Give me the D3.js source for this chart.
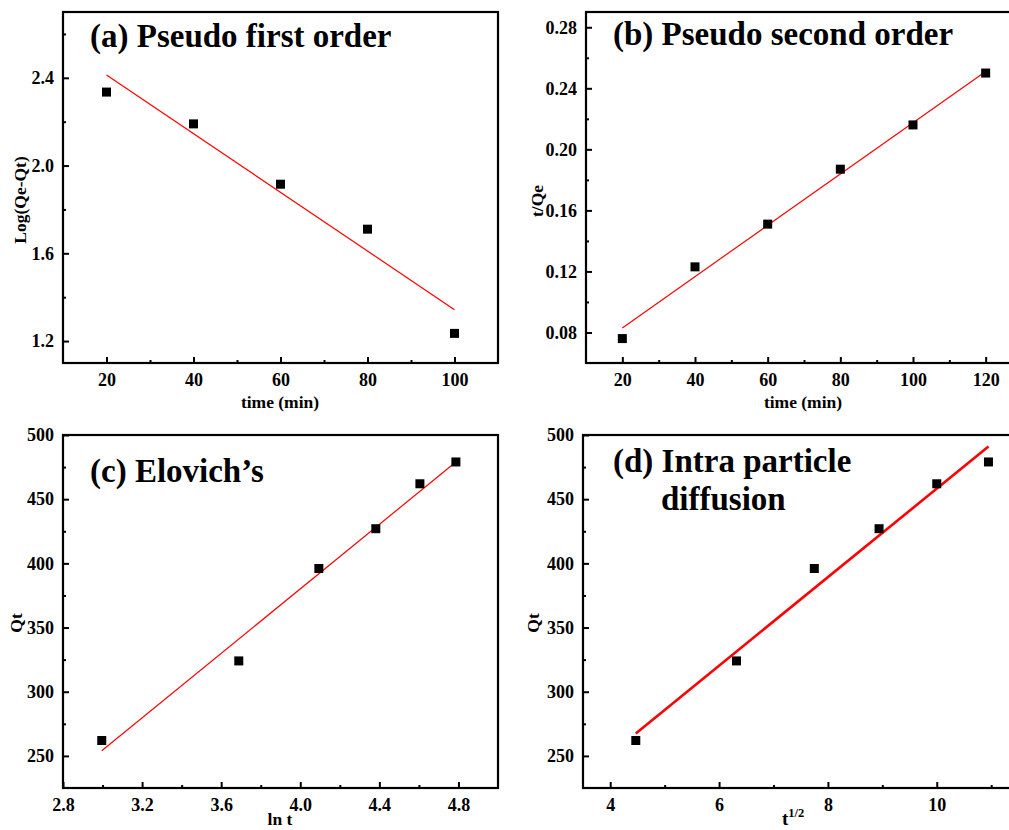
<!DOCTYPE html>
<html>
<head>
<meta charset="utf-8">
<script src="https://cdn.jsdelivr.net/npm/d3@7"></script>
<style>
html,body{margin:0;padding:0;background:#fff;overflow:hidden;}
svg{display:block;}
text{font-family:"Liberation Serif","Times New Roman",serif;font-weight:bold;fill:#000;}
</style>
</head>
<body>
<svg id="chart" width="1009" height="830"></svg>
<script>
// ---- data ----
const timeA = [20, 40, 60, 80, 100];
const logQeQt = [2.335, 2.19, 1.915, 1.71, 1.235];
const fitA_x = [20, 100];
const fitA_y = [2.413, 1.343];

const timeB = [20, 40, 60, 80, 100, 120];
const tOverQe = [0.076, 0.123, 0.151, 0.187, 0.216, 0.250];
const fitB_x = [20, 120];
const fitB_y = [0.083, 0.251];

const lnT = [2.996, 3.689, 4.094, 4.382, 4.605, 4.787];
const qt = [262, 324, 396, 427, 462, 479];
const fitC_x = [2.996, 4.787];
const fitC_y = [254, 479];

const sqrtT = [4.47, 6.32, 7.75, 8.94, 10.0, 10.95];
const fitD_x = [4.47, 10.95];
const fitD_y = [267.5, 491];

const ticksAx = [20, 40, 60, 80, 100];
const minorAx = [30, 50, 70, 90];
const ticksAy = [1.2, 1.6, 2.0, 2.4];
const minorAy = [1.4, 1.8, 2.2, 2.6];

const ticksBx = [20, 40, 60, 80, 100, 120];
const minorBx = [30, 50, 70, 90, 110];
const ticksBy = [0.08, 0.12, 0.16, 0.20, 0.24, 0.28];
const minorBy = [0.10, 0.14, 0.18, 0.22, 0.26];

const ticksCx = [2.8, 3.2, 3.6, 4.0, 4.4, 4.8];
const minorCx = [3.0, 3.4, 3.8, 4.2, 4.6];
const ticksQy = [250, 300, 350, 400, 450, 500];
const minorQy = [275, 325, 375, 425, 475];

const ticksDx = [4, 6, 8, 10];
const minorDx = [5, 7, 9, 11];

const svg = d3.select("#chart");
const TITLE_SIZE = "33px";
const TICK_SIZE = "18px";
const LABEL_SIZE = "17.5px";

function panel(o) {
  const g = svg.append("g");
  const x = d3.scaleLinear().domain(o.xdom).range([o.left, o.right]);
  const y = d3.scaleLinear().domain(o.ydom).range([o.bottom, o.top]);

  const xAxis = d3.axisBottom(x).tickValues(o.xt).tickSize(-6).tickPadding(10).tickFormat(o.xf);
  const yAxis = d3.axisLeft(y).tickValues(o.yt).tickSize(-6).tickPadding(9).tickFormat(o.yf);
  const gx = g.append("g").attr("transform", `translate(0,${o.bottom})`).call(xAxis);
  const gy = g.append("g").attr("transform", `translate(${o.left},0)`).call(yAxis);
  [gx, gy].forEach(a => {
    a.attr("font-family", null).attr("font-size", null);
    a.select(".domain").remove();
    a.selectAll(".tick line").attr("stroke", "#000").attr("stroke-width", 2);
    a.selectAll(".tick text").style("font-size", TICK_SIZE).style("font-family", '"Liberation Serif",serif').style("font-weight", "bold").attr("fill", "#000");
  });
  gx.selectAll(".tick text").attr("dy", "0.71em");
  const mx = d3.axisBottom(x).tickValues(o.xm).tickSize(-3).tickFormat("");
  const my = d3.axisLeft(y).tickValues(o.ym).tickSize(-3).tickFormat("");
  const gmx = g.append("g").attr("transform", `translate(0,${o.bottom})`).call(mx);
  const gmy = g.append("g").attr("transform", `translate(${o.left},0)`).call(my);
  [gmx, gmy].forEach(a => {
    a.select(".domain").remove();
    a.selectAll(".tick line").attr("stroke", "#000").attr("stroke-width", 2);
  });

  g.append("rect").attr("x", o.left).attr("y", o.top)
    .attr("width", o.right - o.left).attr("height", o.bottom - o.top)
    .attr("fill", "none").attr("stroke", "#000").attr("stroke-width", 2.2);

  g.append("line")
    .attr("x1", x(o.fx[0])).attr("y1", y(o.fy[0]))
    .attr("x2", x(o.fx[1])).attr("y2", y(o.fy[1]))
    .attr("stroke", "#ff0000").attr("stroke-width", o.lw);

  const s = 9;
  g.selectAll("rect.pt").data(o.px.map((v, i) => [v, o.py[i]])).enter()
    .append("rect").attr("class", "pt")
    .attr("x", d => x(d[0]) - s / 2).attr("y", d => y(d[1]) - s / 2)
    .attr("width", s).attr("height", s).attr("fill", "#000");

  o.title.forEach(t => {
    g.append("text").attr("x", t[0]).attr("y", t[1]).style("font-size", TITLE_SIZE).text(t[2]);
  });

  g.append("text")
    .attr("transform", `translate(${o.ylx},${o.yly}) rotate(-90)`)
    .attr("text-anchor", "middle").attr("dominant-baseline", "central")
    .style("font-size", LABEL_SIZE).text(o.ylabel);

  return {g, x, y};
}

const fmt1 = d3.format(".1f");
const fmt2 = d3.format(".2f");
const fmt0 = d3.format("d");

const A = panel({left: 63, right: 498, top: 12, bottom: 363, xdom: [10, 110], ydom: [1.1, 2.7],
  xt: ticksAx, xm: minorAx, yt: ticksAy, ym: minorAy, xf: fmt0, yf: fmt1,
  px: timeA, py: logQeQt, fx: fitA_x, fy: fitA_y, lw: 1.2,
  title: [[90, 47, "(a) Pseudo first order"]], ylabel: "Log(Qe-Qt)", ylx: 20, yly: 200});
A.g.append("text").attr("x", 280).attr("y", 408).attr("text-anchor", "middle").style("font-size", LABEL_SIZE).text("time (min)");

const B = panel({left: 586, right: 1022, top: 12, bottom: 363, xdom: [10, 130], ydom: [0.06, 0.29],
  xt: ticksBx, xm: minorBx, yt: ticksBy, ym: minorBy, xf: fmt0, yf: fmt2,
  px: timeB, py: tOverQe, fx: fitB_x, fy: fitB_y, lw: 1.2,
  title: [[613, 45, "(b) Pseudo second order"]], ylabel: "t/Qe", ylx: 537, yly: 201});
B.g.append("text").attr("x", 803).attr("y", 408).attr("text-anchor", "middle").style("font-size", LABEL_SIZE).text("time (min)");

const C = panel({left: 63, right: 498, top: 435, bottom: 788, xdom: [2.8, 5.0], ydom: [225, 500],
  xt: ticksCx, xm: minorCx, yt: ticksQy, ym: minorQy, xf: fmt1, yf: fmt0,
  px: lnT, py: qt, fx: fitC_x, fy: fitC_y, lw: 1.2,
  title: [[90, 482, "(c) Elovich\u2019s"]], ylabel: "Qt", ylx: 16, yly: 623});
C.g.append("text").attr("x", 280).attr("y", 825).attr("text-anchor", "middle").style("font-size", LABEL_SIZE).text("ln t");

const D = panel({left: 583, right: 1018.4, top: 435, bottom: 788, xdom: [3.5, 11.5], ydom: [225, 500],
  xt: ticksDx, xm: minorDx, yt: ticksQy, ym: minorQy, xf: fmt0, yf: fmt0,
  px: sqrtT, py: qt, fx: fitD_x, fy: fitD_y, lw: 2.6,
  title: [[613, 472, "(d) Intra particle"], [661, 510, "diffusion"]], ylabel: "Qt", ylx: 533, yly: 623});
const tl = D.g.append("text").attr("x", 782).attr("y", 825).style("font-size", "19px");
tl.append("tspan").text("t");
tl.append("tspan").attr("dy", -8).style("font-size", "12.5px").text("1/2");
</script>
</body>
</html>
